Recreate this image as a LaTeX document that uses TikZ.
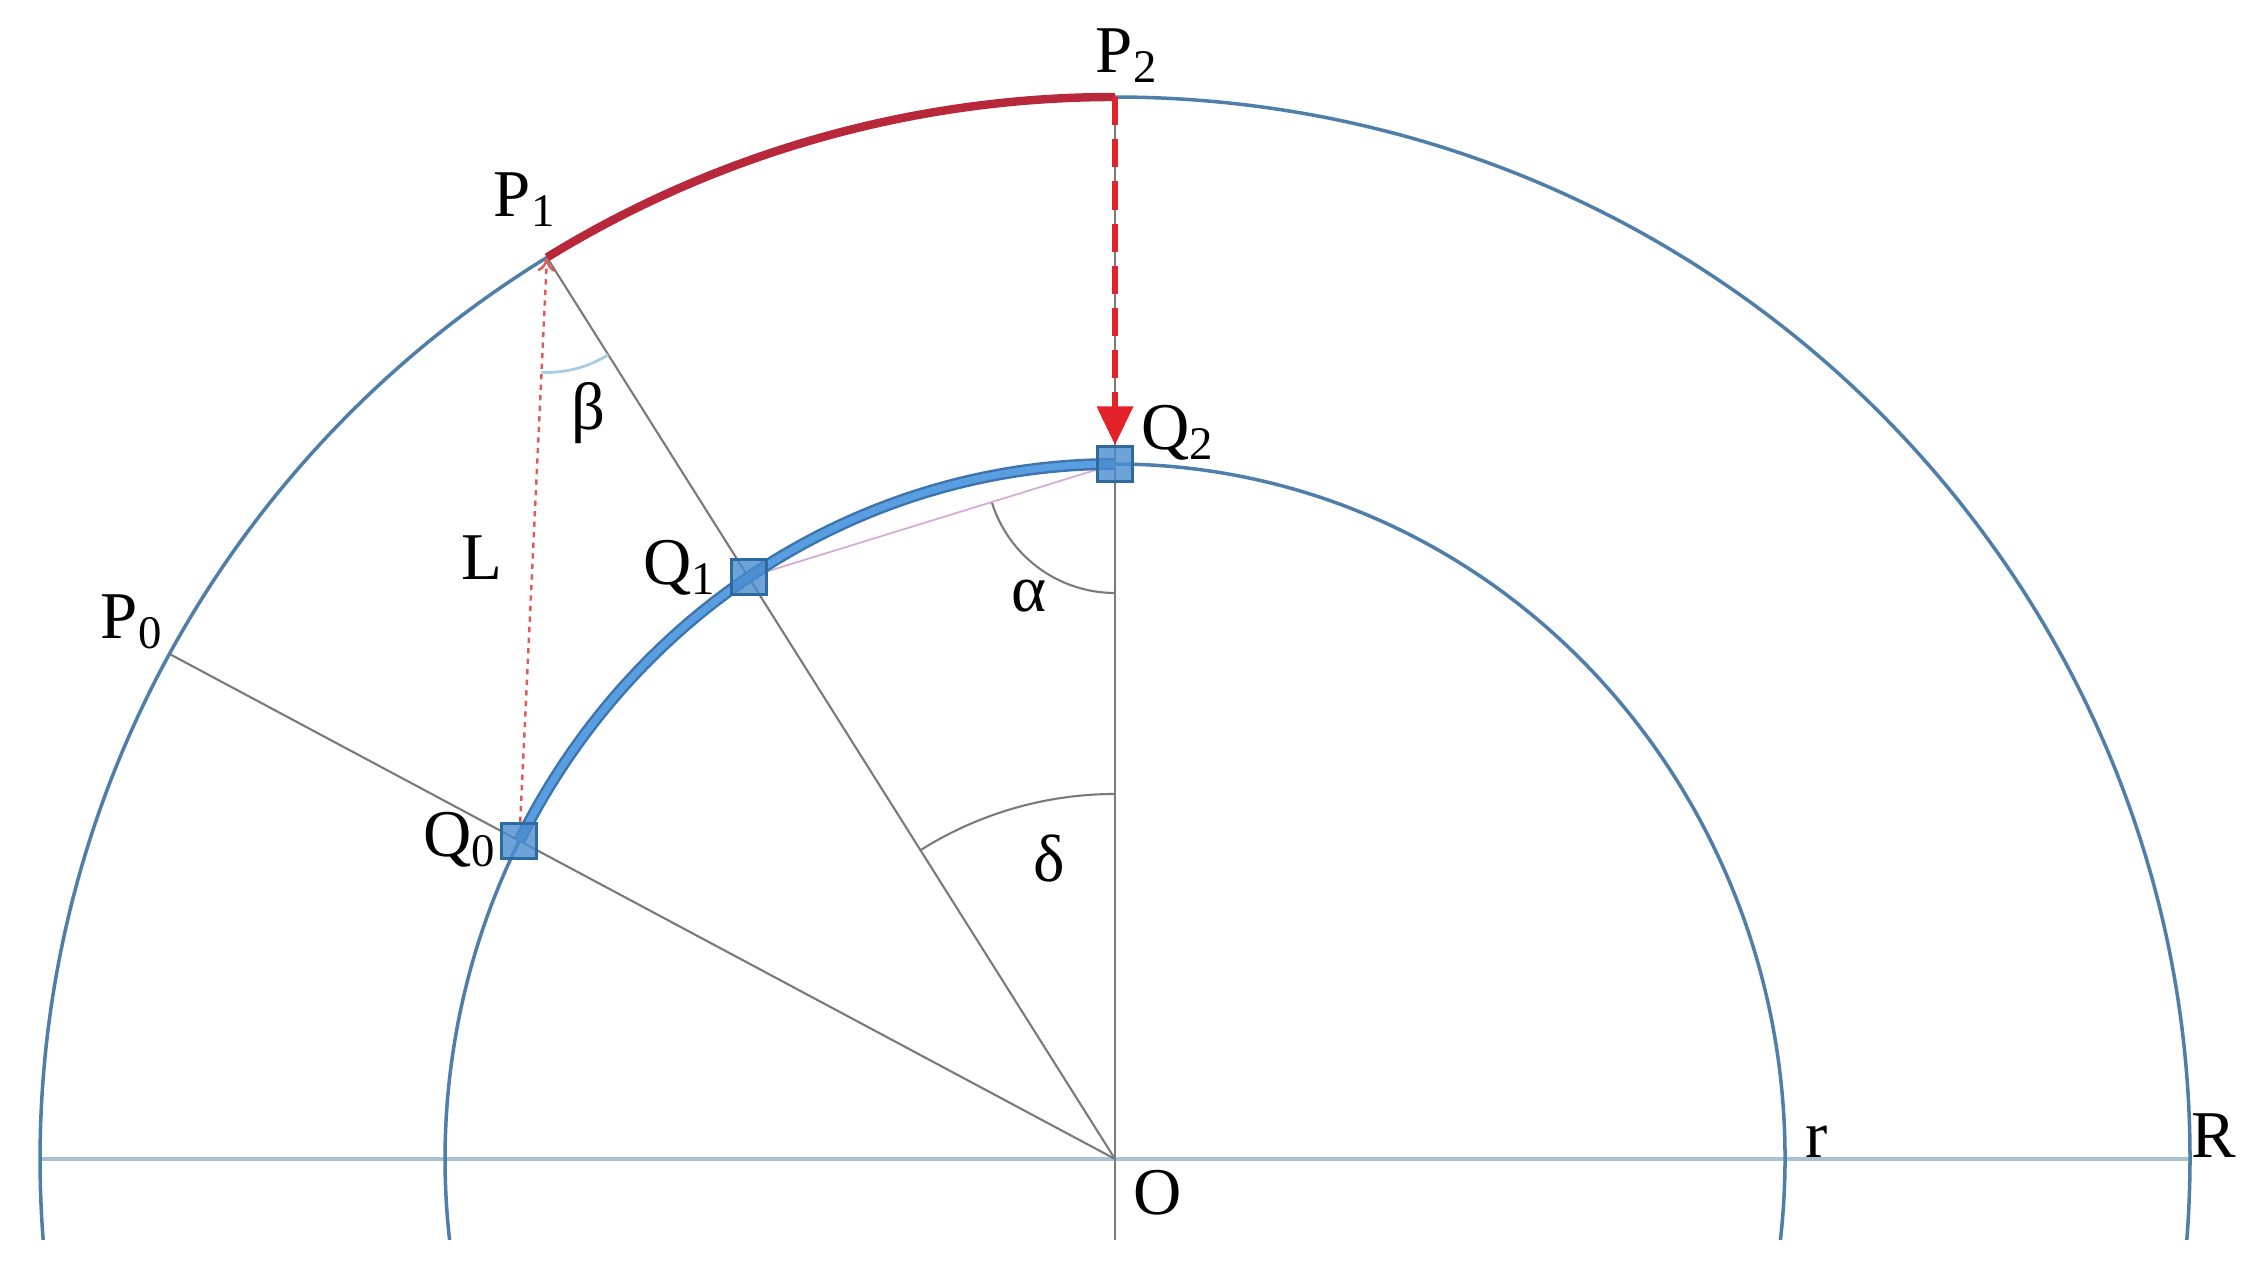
\documentclass[tikz,border=0pt]{standalone}
\usepackage{fontspec}
\setmainfont{Liberation Serif}
\usetikzlibrary{arrows.meta,calc}
\definecolor{circblue}{HTML}{4F7FA8}
\definecolor{axisblue}{HTML}{A8C2D4}
\definecolor{radgray}{HTML}{7A7A7A}
\definecolor{arcred}{HTML}{B8283A}
\definecolor{arcblue}{HTML}{5A9EE2}
\definecolor{arcblueedge}{HTML}{3C74AE}
\definecolor{sqblue}{HTML}{4A8CCF}
\definecolor{sqedge}{HTML}{2E6A9E}
\definecolor{dashred}{HTML}{E4222A}
\definecolor{dotred}{HTML}{E05A5A}
\definecolor{chordpink}{HTML}{D8A8D8}
\definecolor{betablue}{HTML}{A8CCE4}
\begin{document}
\begin{tikzpicture}[x=0.01cm,y=0.01cm,
  lbl/.style={font=\fontsize{19}{22}\selectfont, inner sep=0pt},
  circ/.style={draw=circblue, line width=1pt},
  axisline/.style={draw=axisblue, line width=0.9pt},
  rad/.style={draw=radgray, line width=0.6pt},
  sq/.style={draw=sqedge, fill=sqblue, fill opacity=0.8, minimum size=0.35cm, inner sep=0pt, line width=0.8pt}
]
\useasboundingbox (0,0) rectangle (2254,1264);
\coordinate (O) at (1115,105);
\coordinate (P0) at ($(O)+(151.6:1075 and 1062)$);
\coordinate (P1) at ($(O)+(121.9:1075 and 1062)$);
\coordinate (P2) at ($(O)+(0,1062)$);
\coordinate (Q0) at ($(O)+(152.76:670 and 695)$);
\coordinate (Q1) at ($(O)+(123.15:670 and 695)$);
\coordinate (Q2) at ($(O)+(0,695)$);
\coordinate (B) at ($(O)+(0,-81)$);
\coordinate (AL) at ($(O)+(-1075,0)$);
\coordinate (AR) at ($(O)+(1075,0)$);
% axis
\draw[axisline] (AL) -- (AR);
% circles
\draw[circ] ($(O)+(-4.37:1075 and 1062)$) arc[start angle=-4.37, end angle=184.37, x radius=1075, y radius=1062];
\draw[circ] ($(O)+(-6.69:670 and 695)$) arc[start angle=-6.69, end angle=186.69, x radius=670, y radius=695];
% radial lines
\draw[rad] (O) -- (P0);
\draw[rad] (O) -- (P1);
\draw[rad] (P2) -- (B);
% angle arcs
\draw[rad] ($(O)+(90:365)$) arc[start angle=90, end angle=122.2, radius=365];
\draw[rad] ($(Q2)+(197.15:129)$) arc[start angle=197.15, end angle=270, radius=129];
\draw[betablue, line width=0.8pt] ($(P1)+(267.2:115)$) arc[start angle=267.2, end angle=302.2, radius=115];
% chord
\draw[chordpink, line width=0.5pt] (Q1) -- (Q2);
% thick arcs
\draw[arcred, line width=2.4pt] (P1) arc[start angle=121.9, end angle=90, x radius=1075, y radius=1062];
\draw[arcblueedge, line width=3.4pt] (Q0) arc[start angle=152.76, end angle=90, x radius=670, y radius=695];
\draw[arcblue, line width=2pt] (Q0) arc[start angle=152.76, end angle=90, x radius=670, y radius=695];
% squares
\node[sq] (q0) at (Q0) {};
\node[sq] (q1) at (Q1) {};
\node[sq] (q2) at (Q2) {};
% L dotted
\draw[dotred, line width=0.7pt, dash pattern=on 1.5pt off 1.5pt, -{To[length=4pt,width=5pt]}] (q0) -- (P1);
% dashed arrow
\draw[dashred, line width=1.8pt, dash pattern=on 8pt off 4pt, -{Triangle[length=11pt,width=10pt]}] (P2) -- (q2.north);
% labels
\node[lbl] (lP0) at (132,642) {P\textsubscript{0}};
\node[lbl] (lP1) at (525,1064) {P\textsubscript{1}};
\node[lbl] (lP2) at (1127,1208) {P\textsubscript{2}};
\node[lbl] (lQ0) at (460,424) {Q\textsubscript{0}};
\node[lbl] (lQ1) at (680,696) {Q\textsubscript{1}};
\node[lbl] (lQ2) at (1178,831) {Q\textsubscript{2}};
\node[lbl] (lL) at (482,706) {L};
\node[lbl] (lb) at (588,851) {β};
\node[lbl] (la) at (1029,668) {α};
\node[lbl] (ld) at (1049,406) {δ};
\node[lbl] (lr) at (1817,122) {r};
\node[lbl] (lR) at (2214,128) {R};
\node[lbl] (lO) at (1158,71) {O};
\end{tikzpicture}
\end{document}
